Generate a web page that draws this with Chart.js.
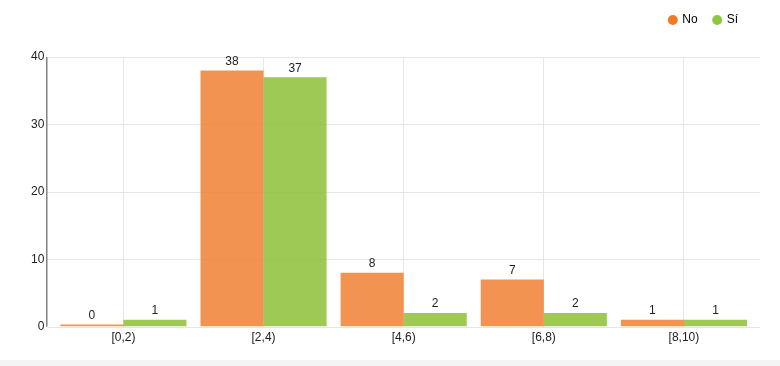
<!DOCTYPE html>
<html>
<head>
<meta charset="utf-8">
<script src="https://cdn.jsdelivr.net/npm/chart.js@4/dist/chart.umd.min.js"></script>
<style>
  html, body { margin: 0; padding: 0; background: #f4f4f4; }
  #wrap { width: 780px; height: 360px; background: #fff; }
</style>
</head>
<body>
<div id="wrap"><canvas id="mycanvas" width="780" height="360"></canvas></div>
<script>
  var categories = ['[0,2)', '[2,4)', '[4,6)', '[6,8)', '[8,10)'];
  var noValues = [0, 38, 8, 7, 1];
  var siValues = [1, 37, 2, 2, 1];
  var yTicks = [0, 10, 20, 30, 40];

  var FONT = '"Liberation Sans", Arial, sans-serif';

  // numbers above the bars
  var barLabels = {
    id: 'barLabels',
    afterDatasetsDraw: function (chart) {
      var ctx = chart.ctx;
      ctx.save();
      ctx.font = '12px ' + FONT;
      ctx.fillStyle = '#222';
      ctx.textAlign = 'center';
      ctx.textBaseline = 'bottom';
      chart.data.datasets.forEach(function (ds, i) {
        chart.getDatasetMeta(i).data.forEach(function (bar, j) {
          ctx.fillText(ds.data[j], bar.x, bar.y - 3);
        });
      });
      ctx.restore();
    }
  };

  // horizontal grid a bit wider than the plot + the y axis line
  var yFrame = {
    id: 'yFrame',
    beforeDatasetsDraw: function (chart) {
      var ctx = chart.ctx, a = chart.chartArea, y = chart.scales.y;
      ctx.save();
      ctx.lineWidth = 1;
      ctx.strokeStyle = '#e6e6e6';
      yTicks.forEach(function (v) {
        var py = Math.round(y.getPixelForValue(v)) + 0.5;
        ctx.beginPath();
        ctx.moveTo(a.left - 6, py);
        ctx.lineTo(a.right + 6, py);
        ctx.stroke();
      });
      ctx.strokeStyle = '#444';
      ctx.beginPath();
      ctx.moveTo(a.left - 6.5, a.top);
      ctx.lineTo(a.left - 6.5, a.bottom);
      ctx.stroke();
      ctx.restore();
    }
  };

  // extra room under the legend
  var legendGap = {
    id: 'legendGap',
    beforeInit: function (chart) {
      var fit = chart.legend.fit;
      chart.legend.fit = function () {
        fit.bind(chart.legend)();
        this.height += 21;
      };
    }
  };

  var chartdata = {
    labels: categories,
    datasets: [
      {
        label: 'No',
        data: noValues,
        backgroundColor: 'rgba(240, 128, 50, 0.85)',
        hoverBackgroundColor: 'rgba(240, 128, 50, 1)',
        minBarLength: 2
      },
      {
        label: 'Sí',
        data: siValues,
        backgroundColor: 'rgba(145, 194, 60, 0.88)',
        hoverBackgroundColor: 'rgba(145, 194, 60, 1)'
      }
    ]
  };

  var ctx = document.getElementById('mycanvas');
  var barGraph = new Chart(ctx, {
    type: 'bar',
    data: chartdata,
    plugins: [legendGap, yFrame, barLabels],
    options: {
      responsive: false,
      animation: false,
      layout: { padding: { left: 22, right: 26, top: -2, bottom: 11 } },
      datasets: { bar: { categoryPercentage: 0.9, barPercentage: 1.0 } },
      plugins: {
        legend: {
          position: 'top',
          align: 'end',
          labels: {
            usePointStyle: true,
            pointStyle: 'circle',
            boxWidth: 7,
            boxHeight: 7,
            padding: 16,
            color: '#222',
            font: { size: 12, family: FONT },
            generateLabels: function (chart) {
              var cols = ['#f47920', '#8dc63f'];
              return chart.data.datasets.map(function (ds, i) {
                return { text: ds.label, fillStyle: cols[i], strokeStyle: cols[i], lineWidth: 0, pointStyle: 'circle', datasetIndex: i, hidden: false };
              });
            }
          }
        },
        tooltip: { enabled: true }
      },
      scales: {
        x: {
          offset: true,
          grid: { offset: false, color: '#e6e6e6', drawTicks: false },
          border: { display: false },
          ticks: { color: '#222', padding: 4, font: { size: 12, family: FONT } }
        },
        y: {
          min: 0,
          max: 40,
          afterBuildTicks: function (axis) {
            axis.ticks = yTicks.map(function (v) { return { value: v }; });
          },
          grid: { display: false, drawTicks: false },
          border: { display: false },
          ticks: { color: '#222', padding: 9, font: { size: 12, family: FONT } }
        }
      }
    }
  });
</script>
</body>
</html>
